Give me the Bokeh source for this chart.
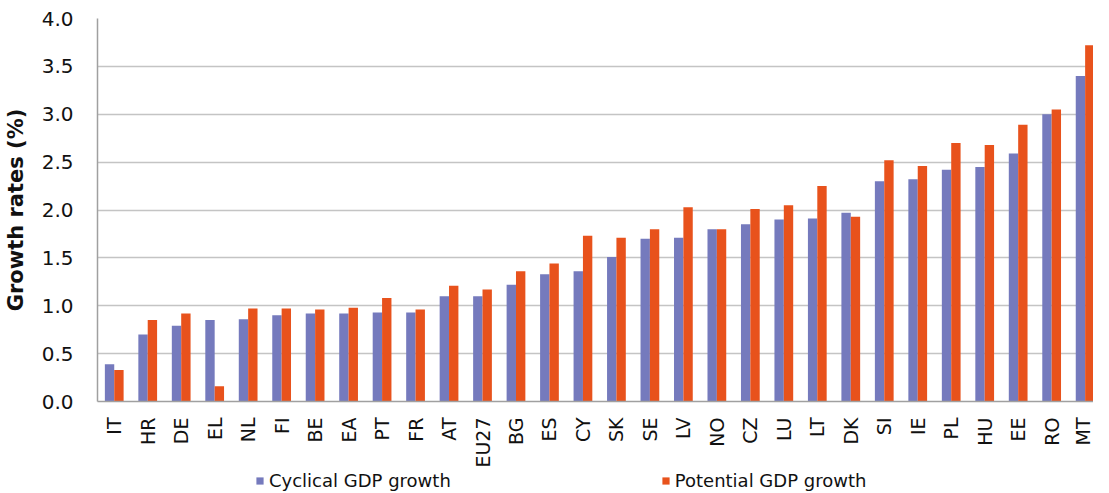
from bokeh.plotting import figure
from bokeh.layouts import column
from bokeh.models import Range1d, FixedTicker, Legend, LegendItem, PrintfTickFormatter, ColumnDataSource
from bokeh.embed import file_html
from bokeh.resources import INLINE
import math

countries = ["IT", "HR", "DE", "EL", "NL", "FI", "BE", "EA", "PT", "FR",
             "AT", "EU27", "BG", "ES", "CY", "SK", "SE", "LV", "NO", "CZ",
             "LU", "LT", "DK", "SI", "IE", "PL", "HU", "EE", "RO", "MT"]
cyclical = [0.39, 0.70, 0.79, 0.85, 0.86, 0.90, 0.92, 0.92, 0.93, 0.93,
            1.10, 1.10, 1.22, 1.33, 1.36, 1.51, 1.70, 1.71, 1.80, 1.85,
            1.90, 1.91, 1.97, 2.30, 2.32, 2.42, 2.45, 2.59, 3.00, 3.40]
potential = [0.33, 0.85, 0.92, 0.16, 0.97, 0.97, 0.96, 0.98, 1.08, 0.96,
             1.21, 1.17, 1.36, 1.44, 1.73, 1.71, 1.80, 2.03, 1.80, 2.01,
             2.05, 2.25, 1.93, 2.52, 2.46, 2.70, 2.68, 2.89, 3.05, 3.72]
y_ticks = [0.0, 0.5, 1.0, 1.5, 2.0, 2.5, 3.0, 3.5, 4.0]
y_title = "Growth rates (%)"
series_names = ["Cyclical GDP growth", "Potential GDP growth"]

BLUE = "#757ABD"
ORANGE = "#E8521C"
FONT = "DejaVu Sans"

xpos = [i + 0.5 for i in range(len(countries))]
src = ColumnDataSource(dict(
    xc=[x - 0.14 for x in xpos],
    xp=[x + 0.14 for x in xpos],
    cyc=cyclical,
    pot=potential,
))

p = figure(width=1093, height=470,
           x_range=Range1d(0, 29.75), y_range=Range1d(0, 4),
           output_backend="svg", toolbar_location=None,
           min_border_left=90, min_border_right=0, min_border_top=18, min_border_bottom=0)
p.outline_line_color = None
p.background_fill_color = "white"

p.vbar(x="xc", top="cyc", width=0.28, source=src, fill_color=BLUE, line_color=None)
p.vbar(x="xp", top="pot", width=0.28, source=src, fill_color=ORANGE, line_color=None)

# axes
p.xaxis.ticker = FixedTicker(ticks=xpos)
p.xaxis.major_label_overrides = {x: c for x, c in zip(xpos, countries)}
p.xaxis.major_label_orientation = math.pi / 2
p.xaxis.major_tick_line_color = None
p.xaxis.minor_tick_line_color = None
p.xaxis.major_label_standoff = 10
p.xaxis.major_label_text_font = FONT
p.xaxis.major_label_text_font_size = "19px"
p.xaxis.major_label_text_color = "#111111"
p.xaxis.axis_line_color = "#A0A0A0"
p.xaxis.axis_line_width = 1.5

p.yaxis.ticker = FixedTicker(ticks=y_ticks)
p.yaxis.formatter = PrintfTickFormatter(format="%.1f")
p.yaxis.major_tick_line_color = None
p.yaxis.minor_tick_line_color = None
p.yaxis.major_label_standoff = 18
p.yaxis.major_label_text_font = FONT
p.yaxis.major_label_text_font_size = "20px"
p.yaxis.major_label_text_color = "#111111"
p.yaxis.axis_line_color = "#A0A0A0"
p.yaxis.axis_line_width = 1.5
p.yaxis.axis_label = y_title
p.yaxis.axis_label_text_font = FONT
p.yaxis.axis_label_text_font_size = "21px"
p.yaxis.axis_label_text_font_style = "bold"
p.yaxis.axis_label_text_color = "#111111"
p.yaxis.axis_label_standoff = 11

p.xgrid.grid_line_color = None
p.ygrid.grid_line_color = "#C4C4C4"
p.ygrid.grid_line_width = 1.3
p.ygrid.ticker = FixedTicker(ticks=y_ticks)

# legend strip below the chart (its bars lie outside its visible range;
# they only supply the legend swatches)
lg = figure(width=1093, height=22, x_range=Range1d(100, 101), y_range=Range1d(100, 101),
            x_axis_type=None, y_axis_type=None,
            output_backend="svg", toolbar_location=None, min_border=0)
lg.outline_line_color = None
lg.xgrid.visible = False
lg.ygrid.visible = False
l1 = lg.vbar(x="xc", top="cyc", width=0.28, source=src, fill_color=BLUE, line_color=None)
l2 = lg.vbar(x="xp", top="pot", width=0.28, source=src, fill_color=ORANGE, line_color=None)

legend = Legend(items=[LegendItem(label=series_names[0], renderers=[l1]),
                       LegendItem(label=series_names[1], renderers=[l2])],
                orientation="horizontal", location=(158, 1),
                padding=0, margin=0, spacing=210,
                glyph_width=9, glyph_height=9, label_standoff=5,
                label_text_font=FONT, label_text_font_size="18px",
                label_text_color="#111111", border_line_color=None,
                background_fill_alpha=0, label_height=18)
lg.add_layout(legend, "center")

layout = column(p, lg, spacing=0)
open("out.html", "w").write(file_html(layout, INLINE))
